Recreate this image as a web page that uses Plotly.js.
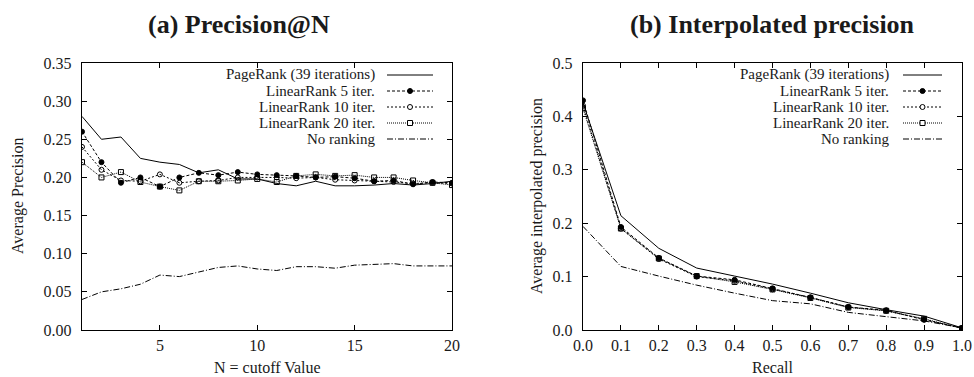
<!DOCTYPE html>
<html>
<head>
<meta charset="utf-8">
<script src="https://cdn.plot.ly/plotly-3.0.1.min.js"></script>
<style>html,body{margin:0;padding:0;background:#fff;}#chart{width:974px;height:377px;}</style>
</head>
<body>
<div id="chart"></div>
<script>
// ---- Data ----
const cutoffN = [1,2,3,4,5,6,7,8,9,10,11,12,13,14,15,16,17,18,19,20];
const precPageRank = [0.280,0.250,0.253,0.225,0.220,0.217,0.206,0.210,0.198,0.198,0.192,0.189,0.195,0.189,0.189,0.190,0.192,0.190,0.192,0.195];
const precLR5      = [0.260,0.220,0.193,0.200,0.188,0.200,0.206,0.203,0.207,0.204,0.203,0.202,0.200,0.201,0.199,0.195,0.196,0.191,0.194,0.193];
const precLR10     = [0.240,0.210,0.196,0.195,0.204,0.193,0.195,0.196,0.200,0.200,0.200,0.199,0.200,0.197,0.196,0.195,0.194,0.192,0.193,0.192];
const precLR20     = [0.220,0.200,0.207,0.194,0.188,0.183,0.195,0.195,0.196,0.198,0.194,0.202,0.204,0.202,0.203,0.200,0.200,0.196,0.193,0.190];
const precNoRank   = [0.040,0.050,0.054,0.060,0.072,0.070,0.076,0.082,0.084,0.080,0.078,0.083,0.083,0.081,0.085,0.086,0.087,0.084,0.084,0.084];

const recall = [0.0,0.1,0.2,0.3,0.4,0.5,0.6,0.7,0.8,0.9,1.0];
const interpPageRank = [0.425,0.214,0.153,0.116,0.101,0.086,0.069,0.051,0.038,0.026,0.004];
const interpLR5      = [0.430,0.193,0.135,0.101,0.094,0.078,0.061,0.043,0.037,0.019,0.004];
const interpLR10     = [0.420,0.190,0.133,0.100,0.092,0.076,0.061,0.043,0.036,0.020,0.003];
const interpLR20     = [0.415,0.190,0.134,0.101,0.090,0.076,0.060,0.042,0.036,0.021,0.003];
const interpNoRank   = [0.194,0.119,0.101,0.084,0.069,0.055,0.049,0.033,0.025,0.017,0.004];

const seriesNames = ["PageRank (39 iterations)","LinearRank 5 iter.","LinearRank 10 iter.","LinearRank 20 iter.","No ranking"];
const leftTickVals = [5,10,15,20];

// ---- Styles ----
const styles = [
  {dash:"solid", symbol:null, fill:null},
  {dash:"3px,2px", symbol:"circle", fill:"#000"},
  {dash:"2px,2px", symbol:"circle-open", fill:"#fff"},
  {dash:"1px,1px", symbol:"square-open", fill:"#fff"},
  {dash:"6px,2px,1px,2px", symbol:null, fill:null}
];
const FONT = "Liberation Serif";
const TXT = "#1a1a1a";

function mk(x, y, i, xa, ya){
  const s = styles[i];
  const t = {x:x, y:y, xaxis:xa, yaxis:ya, name:seriesNames[i], showlegend:false,
    type:"scatter", mode: s.symbol ? "lines+markers" : "lines",
    line:{color:"#000", width:1, dash:s.dash}};
  if (s.symbol) t.marker = {symbol:s.symbol, size:5, color:"#000", line:{color:"#000", width:1}};
  return t;
}

const leftSeries = [precPageRank, precLR5, precLR10, precLR20, precNoRank];
const rightSeries = [interpPageRank, interpLR5, interpLR10, interpLR20, interpNoRank];
const traces = [];
leftSeries.forEach((v,i)=>traces.push(mk(cutoffN, v, i, "x", "y")));
rightSeries.forEach((v,i)=>traces.push(mk(recall, v, i, "x2", "y2")));

const W = 974, H = 377;
const px = v => v / W;
const py = v => 1 - v / H;

const axBase = {showline:true, linecolor:"#000", linewidth:1.2, mirror:"ticks", ticks:"inside",
  ticklen:5, tickcolor:"#000", showgrid:false, zeroline:false,
  tickfont:{family:FONT, size:16, color:TXT}};
const xAx = Object.assign({}, axBase, {ticklabelstandoff:1});
const yAx = Object.assign({}, axBase, {ticklabelstandoff:6});

const layout = {
  width:W, height:H, margin:{l:0,r:0,t:0,b:0}, paper_bgcolor:"#fff", plot_bgcolor:"#fff",
  showlegend:false,
  font:{family:FONT, color:TXT},
  xaxis: Object.assign({}, xAx, {domain:[px(82), px(452)], range:[1,20], tickvals:leftTickVals, anchor:"y"}),
  yaxis: Object.assign({}, yAx, {domain:[py(330), py(63)], range:[0,0.35], dtick:0.05, tickformat:".2f", anchor:"x"}),
  xaxis2: Object.assign({}, xAx, {domain:[px(583), px(962)], range:[0,1], dtick:0.1, tickformat:".1f", anchor:"y2"}),
  yaxis2: Object.assign({}, yAx, {domain:[py(330), py(63)], range:[0,0.5], dtick:0.1, tickformat:".1f", anchor:"x2"}),
  annotations: [
    {text:"<b>(a) Precision@N</b>", x:px(239), y:py(24), xref:"paper", yref:"paper", showarrow:false,
     xanchor:"center", yanchor:"middle", font:{family:FONT, size:26, color:TXT}},
    {text:"<b>(b) Interpolated precision</b>", x:px(772), y:py(24), xref:"paper", yref:"paper", showarrow:false,
     xanchor:"center", yanchor:"middle", font:{family:FONT, size:26, color:TXT}},
    {text:"N = cutoff Value", x:px(267), y:py(367), xref:"paper", yref:"paper", showarrow:false,
     xanchor:"center", yanchor:"middle", font:{family:FONT, size:16, color:TXT}},
    {text:"Recall", x:px(772), y:py(367), xref:"paper", yref:"paper", showarrow:false,
     xanchor:"center", yanchor:"middle", font:{family:FONT, size:16, color:TXT}},
    {text:"Average Precision", x:px(18), y:py(196), xref:"paper", yref:"paper", showarrow:false, textangle:-90,
     xanchor:"center", yanchor:"middle", font:{family:FONT, size:16, color:TXT}},
    {text:"Average interpolated precision", x:px(537), y:py(196), xref:"paper", yref:"paper", showarrow:false, textangle:-90,
     xanchor:"center", yanchor:"middle", font:{family:FONT, size:16, color:TXT}}
  ],
  shapes: []
};

// custom gnuplot-style legends (text right-aligned, sample on the right)
const legendDefs = [
  {textRight:377, lineX0:387, lineX1:433, rows:[75,91,107,123,139]},
  {textRight:891, lineX0:903, lineX1:942, rows:[75,91,107,123,139]}
];
legendDefs.forEach(ld=>{
  seriesNames.forEach((name,i)=>{
    const yy = ld.rows[i];
    layout.annotations.push({text:name, x:px(ld.textRight), y:py(yy), xref:"paper", yref:"paper",
      showarrow:false, xanchor:"right", yanchor:"middle", font:{family:FONT, size:15, color:TXT}});
    const s = styles[i];
    layout.shapes.push({type:"line", xref:"paper", yref:"paper", x0:px(ld.lineX0), x1:px(ld.lineX1),
      y0:py(yy), y1:py(yy), line:{color:"#000", width:1, dash:s.dash}});
    if (s.symbol){
      const cx = px((ld.lineX0+ld.lineX1)/2), cy = py(yy);
      layout.shapes.push({type: s.symbol.indexOf("square")===0 ? "rect" : "circle",
        xref:"paper", yref:"paper", xsizemode:"pixel", ysizemode:"pixel",
        xanchor:cx, yanchor:cy, x0:-2.5, x1:2.5, y0:-2.5, y1:2.5,
        fillcolor:s.fill, line:{color:"#000", width:1}});
    }
  });
});

Plotly.newPlot("chart", traces, layout, {staticPlot:true, displayModeBar:false});
</script>
</body>
</html>
